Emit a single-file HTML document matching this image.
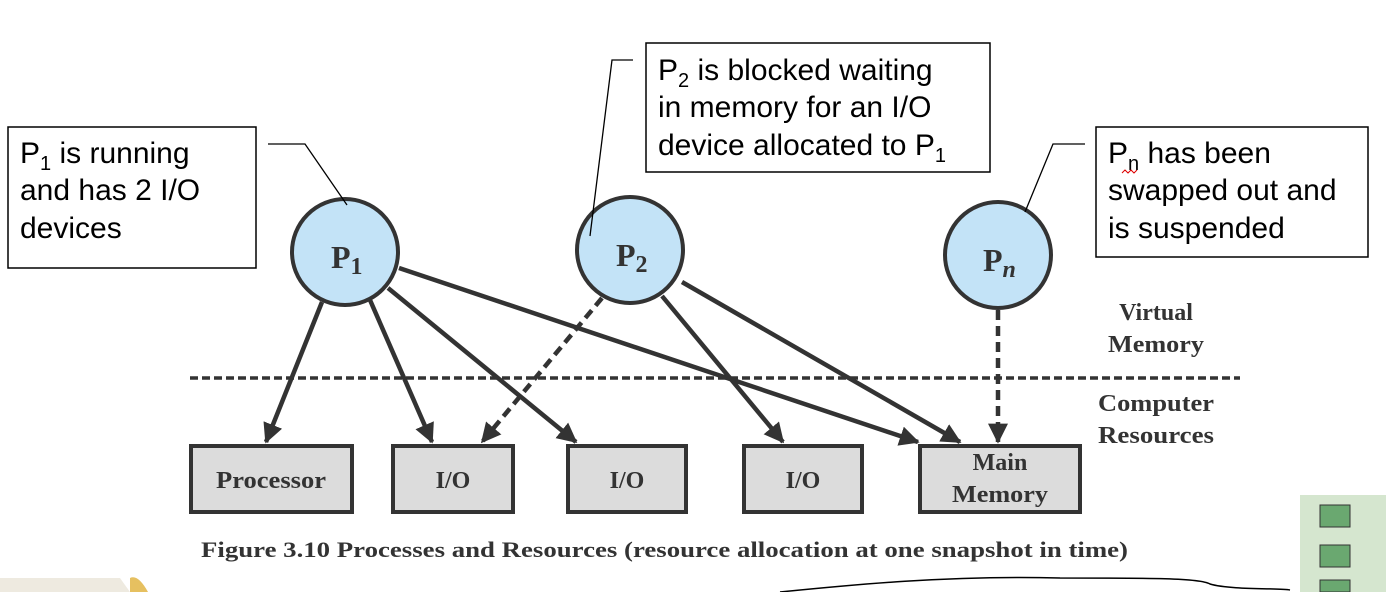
<!DOCTYPE html>
<html><head><meta charset="utf-8"><style>
html,body{margin:0;padding:0;background:#fff;}
svg{display:block;}
.c{font-family:"Liberation Sans",sans-serif;font-size:30px;fill:#000;}
.s{font-family:"Liberation Serif",serif;font-weight:bold;fill:#333;}
</style></head><body>
<svg width="1386" height="592" viewBox="0 0 1386 592" xmlns="http://www.w3.org/2000/svg">
<defs>
<marker id="ah" viewBox="0 0 12 12" refX="11" refY="6" markerWidth="20" markerHeight="20" markerUnits="userSpaceOnUse" orient="auto"><path d="M0,0 L12,6 L0,12 z" fill="#333"/></marker>
</defs>
<line x1="190" y1="378" x2="1240" y2="378" stroke="#333" stroke-width="3.5" stroke-dasharray="8,4"/>
<g stroke="#333" stroke-width="4.5" fill="none">
<line x1="322" y1="302" x2="266" y2="442" marker-end="url(#ah)"/>
<line x1="370" y1="300" x2="432" y2="442" marker-end="url(#ah)"/>
<line x1="388" y1="288" x2="576" y2="442" marker-end="url(#ah)"/>
<line x1="399" y1="268" x2="918" y2="442" marker-end="url(#ah)"/>
<line x1="662" y1="296" x2="783" y2="442" marker-end="url(#ah)"/>
<line x1="682" y1="282" x2="960" y2="442" marker-end="url(#ah)"/>
<line x1="602" y1="298" x2="482" y2="442" stroke-dasharray="10,6" marker-end="url(#ah)"/>
<line x1="998" y1="310" x2="998" y2="442" stroke-dasharray="10,6" marker-end="url(#ah)"/>
</g>
<g fill="#c3e3f7" stroke="#333" stroke-width="4">
<circle cx="345" cy="252" r="53"/>
<circle cx="630" cy="250" r="53"/>
<circle cx="998" cy="255" r="53"/>
</g>
<text class="s" x="331" y="268" font-size="32">P<tspan font-size="24" dy="6">1</tspan></text>
<text class="s" x="616" y="266" font-size="32">P<tspan font-size="24" dy="6">2</tspan></text>
<text class="s" x="983" y="271" font-size="32">P<tspan font-size="24" dy="6" font-style="italic">n</tspan></text>
<g fill="#dcdcdc" stroke="#333" stroke-width="4">
<rect x="191" y="446" width="161" height="66"/>
<rect x="393" y="446" width="120" height="66"/>
<rect x="568" y="446" width="118" height="66"/>
<rect x="744" y="446" width="118" height="66"/>
<rect x="920" y="446" width="160" height="66"/>
</g>
<g class="s" font-size="24" text-anchor="middle">
<text x="271" y="488" textLength="110" lengthAdjust="spacingAndGlyphs">Processor</text>
<text x="453" y="488">I/O</text>
<text x="627" y="488">I/O</text>
<text x="803" y="488">I/O</text>
<text x="1000" y="470">Main</text>
<text x="1000" y="502" textLength="96" lengthAdjust="spacingAndGlyphs">Memory</text>
<text x="1156" y="320">Virtual</text>
<text x="1156" y="352" textLength="96" lengthAdjust="spacingAndGlyphs">Memory</text>
<text x="1156" y="411" textLength="116" lengthAdjust="spacingAndGlyphs">Computer</text>
<text x="1156" y="443" textLength="116" lengthAdjust="spacingAndGlyphs">Resources</text>
</g>
<text class="s" x="201" y="557" font-size="22" textLength="927" lengthAdjust="spacingAndGlyphs">Figure 3.10  Processes and Resources (resource allocation at one snapshot in time)</text>
<g fill="#fff" stroke="#000" stroke-width="1.5">
<rect x="8" y="127" width="248" height="141"/>
<rect x="646" y="43" width="344" height="129"/>
<rect x="1096" y="127" width="272" height="130"/>
</g>
<g stroke="#000" stroke-width="1.3" fill="none">
<polyline points="268,144 305,144 347,205"/>
<polyline points="633,60 612,60 590,236"/>
<polyline points="1085,144 1053,144 1025,212"/>
</g>
<text class="c" x="20" y="163">P<tspan font-size="20" dy="7">1</tspan><tspan dy="-7"> is running</tspan></text>
<text class="c" x="20" y="200">and has 2 I/O</text>
<text class="c" x="20" y="238">devices</text>
<text class="c" x="658" y="80">P<tspan font-size="20" dy="7">2</tspan><tspan dy="-7"> is blocked waiting</tspan></text>
<text class="c" x="658" y="117">in memory for an I/O</text>
<text class="c" x="658" y="155">device allocated to P<tspan font-size="20" dy="7">1</tspan></text>
<text class="c" x="1108" y="163">P<tspan font-size="20" dy="7">n</tspan><tspan dy="-7"> has been</tspan></text>
<text class="c" x="1108" y="200">swapped out and</text>
<text class="c" x="1108" y="238">is suspended</text>
<path d="M1122,173 l3,-3 l3,3 l3,-3 l3,3 l3,-3" stroke="#d00" fill="none" stroke-width="1"/>
<path d="M0,578 L120,578 L130,592 L0,592 Z" fill="#eeeae0"/>
<path d="M130,578 q8,-4 18,14 L130,592z" fill="#e6c060"/>
<path d="M780,592 C850,585 950,575 1060,578 C1150,578 1200,578 1210,584 C1230,590 1280,588 1290,590" stroke="#000" stroke-width="1.5" fill="none"/>
<rect x="1300" y="495" width="86" height="97" fill="#d5e6cf"/>
<rect x="1320" y="505" width="30" height="22" fill="#6aa870" stroke="#333"/>
<rect x="1320" y="545" width="30" height="22" fill="#6aa870" stroke="#333"/>
<rect x="1320" y="580" width="30" height="12" fill="#6aa870" stroke="#333"/>
</svg>
</body></html>
